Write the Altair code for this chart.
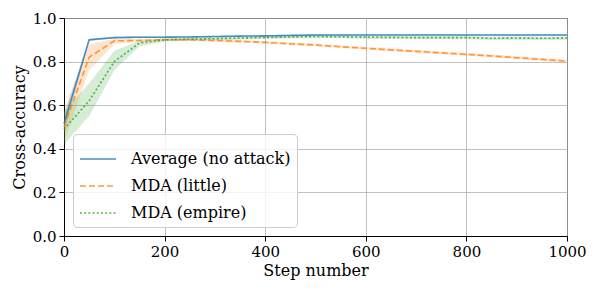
import altair as alt
import pandas as pd

steps = [0, 50, 100, 150, 200, 250, 300, 350, 400, 450, 500,
         550, 600, 650, 700, 750, 800, 850, 900, 950, 1000]
series_names = ["Average (no attack)", "MDA (little)", "MDA (empire)"]

avg_mean = [0.515, 0.900, 0.910, 0.912, 0.912, 0.913, 0.915, 0.917, 0.918, 0.920, 0.922,
            0.922, 0.922, 0.922, 0.922, 0.922, 0.922, 0.922, 0.922, 0.922, 0.922]
avg_lo = [0.47, 0.895, 0.905, 0.908, 0.909, 0.910, 0.912, 0.914, 0.915, 0.917, 0.919,
          0.919, 0.919, 0.919, 0.919, 0.919, 0.919, 0.919, 0.919, 0.919, 0.919]
avg_hi = [0.56, 0.905, 0.915, 0.916, 0.915, 0.916, 0.918, 0.920, 0.921, 0.923, 0.925,
          0.925, 0.925, 0.925, 0.925, 0.925, 0.925, 0.925, 0.925, 0.925, 0.925]

little_mean = [0.500, 0.820, 0.895, 0.897, 0.900, 0.900, 0.897, 0.893, 0.888, 0.882, 0.876,
               0.868, 0.861, 0.854, 0.847, 0.840, 0.833, 0.826, 0.818, 0.810, 0.802]
little_lo = [0.43, 0.760, 0.880, 0.890, 0.894, 0.894, 0.891, 0.887, 0.882, 0.876, 0.870,
             0.862, 0.855, 0.848, 0.841, 0.834, 0.827, 0.820, 0.812, 0.804, 0.796]
little_hi = [0.57, 0.880, 0.905, 0.904, 0.906, 0.906, 0.903, 0.899, 0.894, 0.888, 0.882,
             0.874, 0.867, 0.860, 0.853, 0.846, 0.839, 0.832, 0.824, 0.816, 0.808]

empire_mean = [0.490, 0.620, 0.800, 0.885, 0.900, 0.903, 0.905, 0.908, 0.911, 0.913, 0.915,
               0.914, 0.912, 0.911, 0.910, 0.910, 0.910, 0.907, 0.908, 0.907, 0.908]
empire_lo = [0.42, 0.550, 0.760, 0.870, 0.892, 0.896, 0.898, 0.901, 0.904, 0.906, 0.908,
             0.907, 0.905, 0.904, 0.903, 0.903, 0.903, 0.899, 0.900, 0.899, 0.900]
empire_hi = [0.57, 0.700, 0.850, 0.895, 0.906, 0.909, 0.911, 0.914, 0.917, 0.919, 0.921,
             0.920, 0.918, 0.917, 0.916, 0.916, 0.916, 0.914, 0.915, 0.914, 0.915]

colors = ["#1f77b4", "#ff7f0e", "#2ca02c"]
dashes = [[1, 0], [6, 3], [2, 2.2]]
FONT = "DejaVu Serif"

rows = []
for name, m, lo, hi in [
    (series_names[0], avg_mean, avg_lo, avg_hi),
    (series_names[1], little_mean, little_lo, little_hi),
    (series_names[2], empire_mean, empire_lo, empire_hi),
]:
    for s, a, b, c in zip(steps, m, lo, hi):
        rows.append({"step": s, "series": name, "mean": a, "lo": b, "hi": c})
df = pd.DataFrame(rows)

x_enc = alt.X("step:Q", scale=alt.Scale(domain=[0, 1000], nice=False),
              axis=alt.Axis(values=[0, 200, 400, 600, 800, 1000], format="d",
                            title="Step number", labelFlush=False))
y_axis = alt.Axis(values=[0, 0.2, 0.4, 0.6, 0.8, 1.0], format=".1f",
                  title="Cross-accuracy", labelFlush=False)
y_scale = alt.Scale(domain=[0, 1], nice=False)
color_scale = alt.Scale(domain=series_names, range=colors)
dash_scale = alt.Scale(domain=series_names, range=dashes)

legend = alt.Legend(
    title=None, orient="bottom-left", offset=9, symbolType="stroke",
    symbolSize=1300, symbolStrokeWidth=1.5, symbolOpacity=0.8,
    labelFontSize=16, labelFont=FONT, labelColor="black",
    fillColor="rgba(255,255,255,0.8)", strokeColor="#cccccc", cornerRadius=4,
    padding=6, rowPadding=0, labelOffset=14,
)

band = alt.Chart(df).mark_area(opacity=0.2).encode(
    x=x_enc,
    y=alt.Y("lo:Q", scale=y_scale, axis=y_axis),
    y2="hi:Q",
    color=alt.Color("series:N", scale=color_scale, legend=legend, sort=series_names),
    detail="series:N",
)

line = alt.Chart(df).mark_line(strokeWidth=1.6, opacity=0.8).encode(
    x=x_enc,
    y=alt.Y("mean:Q", scale=y_scale, axis=y_axis),
    color=alt.Color("series:N", scale=color_scale, legend=legend, sort=series_names),
    strokeDash=alt.StrokeDash("series:N", scale=dash_scale, legend=legend, sort=series_names),
)

chart = alt.layer(band, line).properties(
    width=503, height=218,
    padding={"left": 56, "top": 10, "right": 23, "bottom": 48},
    autosize=alt.AutoSizeParams(type="none"),
).configure(font=FONT).configure_axis(
    labelFont=FONT, titleFont=FONT,
    labelFontSize=15, titleFontSize=16, titleFontWeight="normal",
    labelColor="black", titleColor="black", tickColor="black", domainColor="black",
    gridColor="#b0b0b0", gridWidth=0.8, tickSize=5, labelPadding=3,
).configure_axisY(titlePadding=5).configure_axisX(titlePadding=3).configure_legend(
    labelFont=FONT
).configure_view(
    stroke="black", strokeWidth=1
)

chart.save("out.html", embed_options={"renderer": "svg", "actions": False})
